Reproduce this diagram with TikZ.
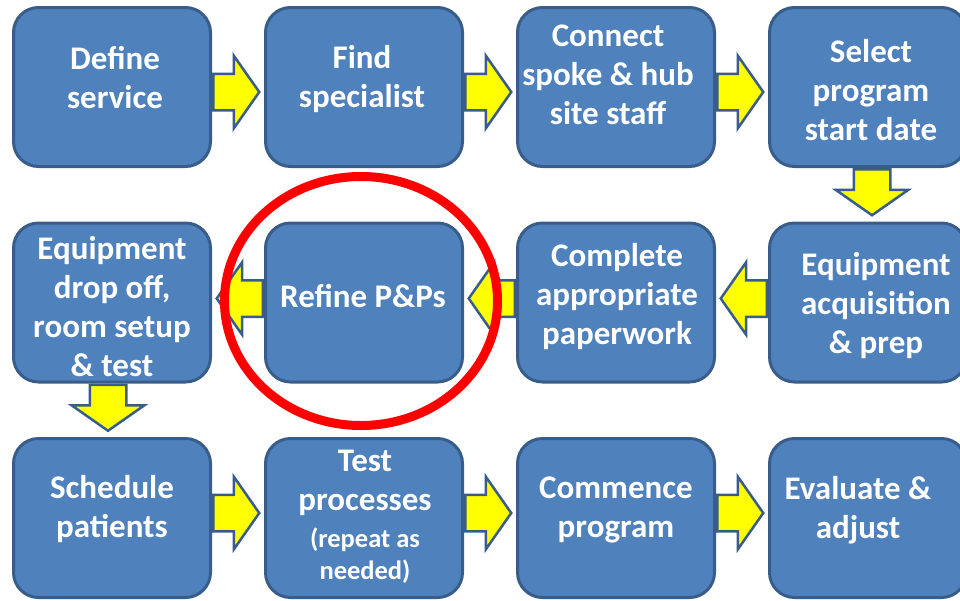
\documentclass[tikz,border=0pt]{standalone}
\usepackage{fontspec}
\setmainfont{Carlito}
\usetikzlibrary{shapes.arrows,positioning}

\definecolor{boxblue}{HTML}{4F81BD}
\definecolor{boxedge}{HTML}{385D8A}
\definecolor{arrowyellow}{HTML}{FFFF00}

\begin{document}
\begin{tikzpicture}[x=1pt,y=-1pt,
  stepbox/.style={draw=boxedge, line width=3pt, fill=boxblue, rounded corners=25pt,
    minimum width=197pt, minimum height=159pt, inner sep=0pt},
  steptext/.style={text=white, font=\fontsize{33}{39}\selectfont\bfseries, align=center, inner sep=0pt},
  notetext/.style={text=white, font=\fontsize{26.5}{32}\selectfont\bfseries, align=center, inner sep=0pt},
  flowarrow/.style={single arrow, draw=boxedge, line width=2.5pt, fill=arrowyellow,
    inner sep=0pt, inner ysep=17pt, minimum height=46pt,
    single arrow head extend=18pt, single arrow tip angle=110},
  downarrow/.style={flowarrow, shape border rotate=270, inner xsep=17pt, inner ysep=0pt}
]
  \clip (0,0) rectangle (960,600);
  \fill[white] (0,0) rectangle (960,600);

  % row 1
  \node[stepbox] (define)  at (112,87) {};
  \node[stepbox] (find)    at (364,87) {};
  \node[stepbox] (connect) at (616,87) {};
  \node[stepbox] (select)  at (868,87) {};

  % row 2
  \node[stepbox] (dropoff)   at (112,302.5) {};
  \node[stepbox] (refine)    at (364,302.5) {};
  \node[stepbox] (paperwork) at (616,302.5) {};
  \node[stepbox] (acquire)   at (868,302.5) {};

  % row 3
  \node[stepbox] (schedule) at (112,518) {};
  \node[stepbox] (testproc) at (364,518) {};
  \node[stepbox] (commence) at (616,518) {};
  \node[stepbox] (evaluate) at (868,518) {};

  % arrows
  \node[flowarrow, anchor=tail] (define-find)   at ([yshift=-5pt]define.east) {};
  \node[flowarrow, anchor=tail] (find-connect)  at ([yshift=-5pt]find.east) {};
  \node[flowarrow, anchor=tail] (connect-select) at ([yshift=-5pt]connect.east) {};
  \node[downarrow, anchor=tail] (select-acquire) at ([xshift=4pt]select.south) {};
  \node[flowarrow, anchor=tail, shape border rotate=180] (acquire-paperwork) at ([yshift=4pt]acquire.west) {};
  \node[flowarrow, anchor=tail, shape border rotate=180] (paperwork-refine) at ([yshift=4pt]paperwork.west) {};
  \node[flowarrow, anchor=tail, shape border rotate=180] (refine-dropoff) at ([yshift=4pt]refine.west) {};
  \node[downarrow, anchor=tail] (dropoff-schedule) at ([xshift=-4pt]dropoff.south) {};
  \node[flowarrow, anchor=tail] (schedule-testproc) at ([yshift=5pt]schedule.east) {};
  \node[flowarrow, anchor=tail] (testproc-commence) at ([yshift=5pt]testproc.east) {};
  \node[flowarrow, anchor=tail] (commence-evaluate) at ([yshift=5pt]commence.east) {};

  % texts
  \node[steptext] (definetxt)    at (115,78) {Define\\service};
  \node[steptext] (findtxt)      at (362,79) {Find\\specialist};
  \node[steptext] (connecttxt)   at (608,75) {Connect\\spoke \& hub\\site staff};
  \node[steptext] (selecttxt)    at (871,90) {Select\\program\\start date};
  \node[steptext] (dropofftxt)   at (112,307) {Equipment\\drop off,\\room setup\\\& test};
  \node[steptext] (refinetxt)    at (363,296) {Refine P\&Ps};
  \node[steptext] (paperworktxt) at (617,297) {Complete\\appropriate\\paperwork};
  \node[steptext] (acquiretxt)   at (876,306) {Equipment\\acquisition\\\& prep};
  \node[steptext] (scheduletxt)  at (112,509) {Schedule\\patients};
  \node[steptext] (testtxt)      at (365,483) {Test\\processes};
  \node[notetext] (testnote)     at (365,556) {(repeat as\\needed)};
  \node[steptext] (commencetxt)  at (616,510) {Commence\\program};
  \node[steptext] (evaluatetxt)  at (858,510) {Evaluate \&\\adjust};

  % highlight
  \draw[red, line width=9pt] (361,301) ellipse [x radius=136.5, y radius=124.5];
\end{tikzpicture}
\end{document}
